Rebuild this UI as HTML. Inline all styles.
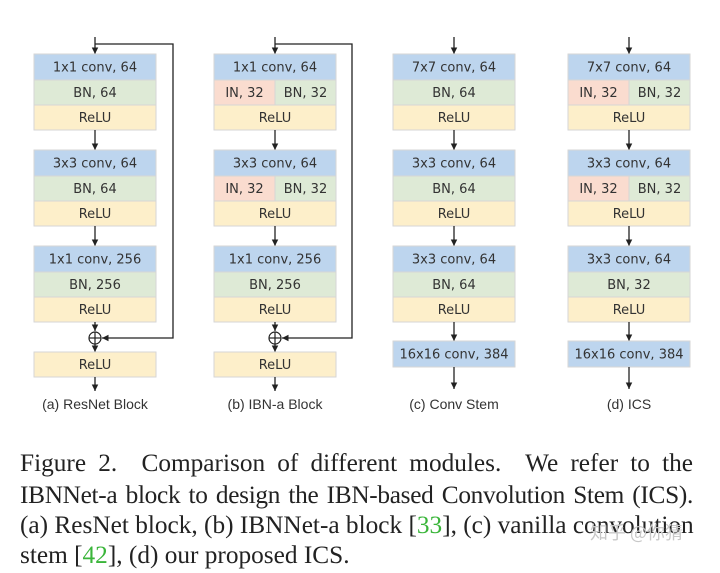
<!DOCTYPE html>
<html><head><meta charset="utf-8"><style>
html,body{margin:0;padding:0;background:#fff;width:720px;height:573px;overflow:hidden}
svg text{font-family:"DejaVu Sans","Liberation Sans",sans-serif;font-size:13px;fill:#333}
.cap{position:absolute;left:20px;width:673px;font-family:"Liberation Serif",serif;font-size:25.3px;color:#222;line-height:30px;white-space:nowrap}
.j{text-align:justify;text-align-last:justify}
.g{color:#3ab53a}
.wm{position:absolute;left:590px;top:519px;font-family:"Noto Sans CJK SC",sans-serif;font-size:18px;color:#c8c8c8}
</style></head><body>
<svg width="720" height="430" style="position:absolute;left:0;top:0">
<defs><marker id="ah" markerWidth="6" markerHeight="6" refX="5" refY="3" orient="auto"><path d="M0,0.5 L5,3 L0,5.5z" fill="#222"/></marker></defs>
<g id="cols"></g>
</svg>
<div class="cap j" style="top:448px">Figure 2.&nbsp; Comparison of different modules.&nbsp; We refer to the</div>
<div class="cap j" style="top:480px;letter-spacing:-0.3px">IBNNet-a block to design the IBN-based Convolution Stem (ICS).</div>
<div class="cap j" style="top:510px">(a) ResNet block, (b) IBNNet-a block [<span class="g">33</span>], (c) vanilla convolution</div>
<div class="cap" style="top:540px">stem [<span class="g">42</span>], (d) our proposed ICS.</div>
<div class="wm">知乎 @你猜</div>
<script>
const B='#bdd5ee',G='#deead6',Y='#fdefca',P='#fadccf';
const cols=[
 {x:34,lab:'(a) ResNet Block',rows:[['1x1 conv, 64','BN, 64',0],['3x3 conv, 64','BN, 64',0],['1x1 conv, 256','BN, 256',0]],end:'res',skip:173},
 {x:214,lab:'(b) IBN-a Block',rows:[['1x1 conv, 64','BN, 32',1],['3x3 conv, 64','BN, 32',1],['1x1 conv, 256','BN, 256',0]],end:'res',skip:352},
 {x:393,lab:'(c) Conv Stem',rows:[['7x7 conv, 64','BN, 64',0],['3x3 conv, 64','BN, 64',0],['3x3 conv, 64','BN, 64',0]],end:'conv'},
 {x:568,lab:'(d) ICS',rows:[['7x7 conv, 64','BN, 32',1],['3x3 conv, 64','BN, 32',1],['3x3 conv, 64','BN, 32',0]],end:'conv'}
];
const W=122;let s='';
function rect(x,y,w,h,f,t){s+=`<rect x="${x}" y="${y}" width="${w}" height="${h}" fill="${f}" stroke="#d6d6d6" stroke-width="1"/>`;s+=`<text x="${x+w/2}" y="${y+h/2+4.5}" text-anchor="middle">${t}</text>`;}
function arr(x,y1,y2){s+=`<line x1="${x}" y1="${y1}" x2="${x}" y2="${y2}" stroke="#222" stroke-width="1.3" marker-end="url(#ah)"/>`;}
const tops=[54,150,246];
for(const c of cols){
 const cx=c.x+W/2;
 arr(cx,37,54);
 c.rows.forEach((r,i)=>{const t=tops[i];
  rect(c.x,t,W,26,B,r[0]);
  if(r[2]){rect(c.x,t+26,W/2,25,P,'IN, 32');rect(c.x+W/2,t+26,W/2,25,G,'BN, 32');}
  else rect(c.x,t+26,W,25,G,r[1]);
  rect(c.x,t+51,W,25,Y,'ReLU');
  if(i<2)arr(cx,t+76,tops[i+1]);
 });
 if(c.end=='res'){
  arr(cx,322,331);
  s+=`<circle cx="${cx}" cy="338" r="6" fill="none" stroke="#222" stroke-width="1.2"/><line x1="${cx-6}" y1="338" x2="${cx+6}" y2="338" stroke="#222" stroke-width="1.2"/><line x1="${cx}" y1="332" x2="${cx}" y2="344" stroke="#222" stroke-width="1.2"/>`;
  s+=`<polyline points="${cx},44 ${c.skip},44 ${c.skip},338 ${cx+7},338" fill="none" stroke="#222" stroke-width="1.3" marker-end="url(#ah)"/>`;
  arr(cx,344,352);
  rect(c.x,352,W,25,Y,'ReLU');
  arr(cx,377,391);
 } else {
  arr(cx,322,341);
  rect(c.x,341,W,26,B,'16x16 conv, 384');
  arr(cx,367,389);
 }
 s+=`<text x="${cx}" y="409" text-anchor="middle" style="font-family:'Liberation Sans',sans-serif;font-size:14px;fill:#333">${c.lab}</text>`;
}
document.getElementById('cols').innerHTML=s;
</script>
</body></html>
